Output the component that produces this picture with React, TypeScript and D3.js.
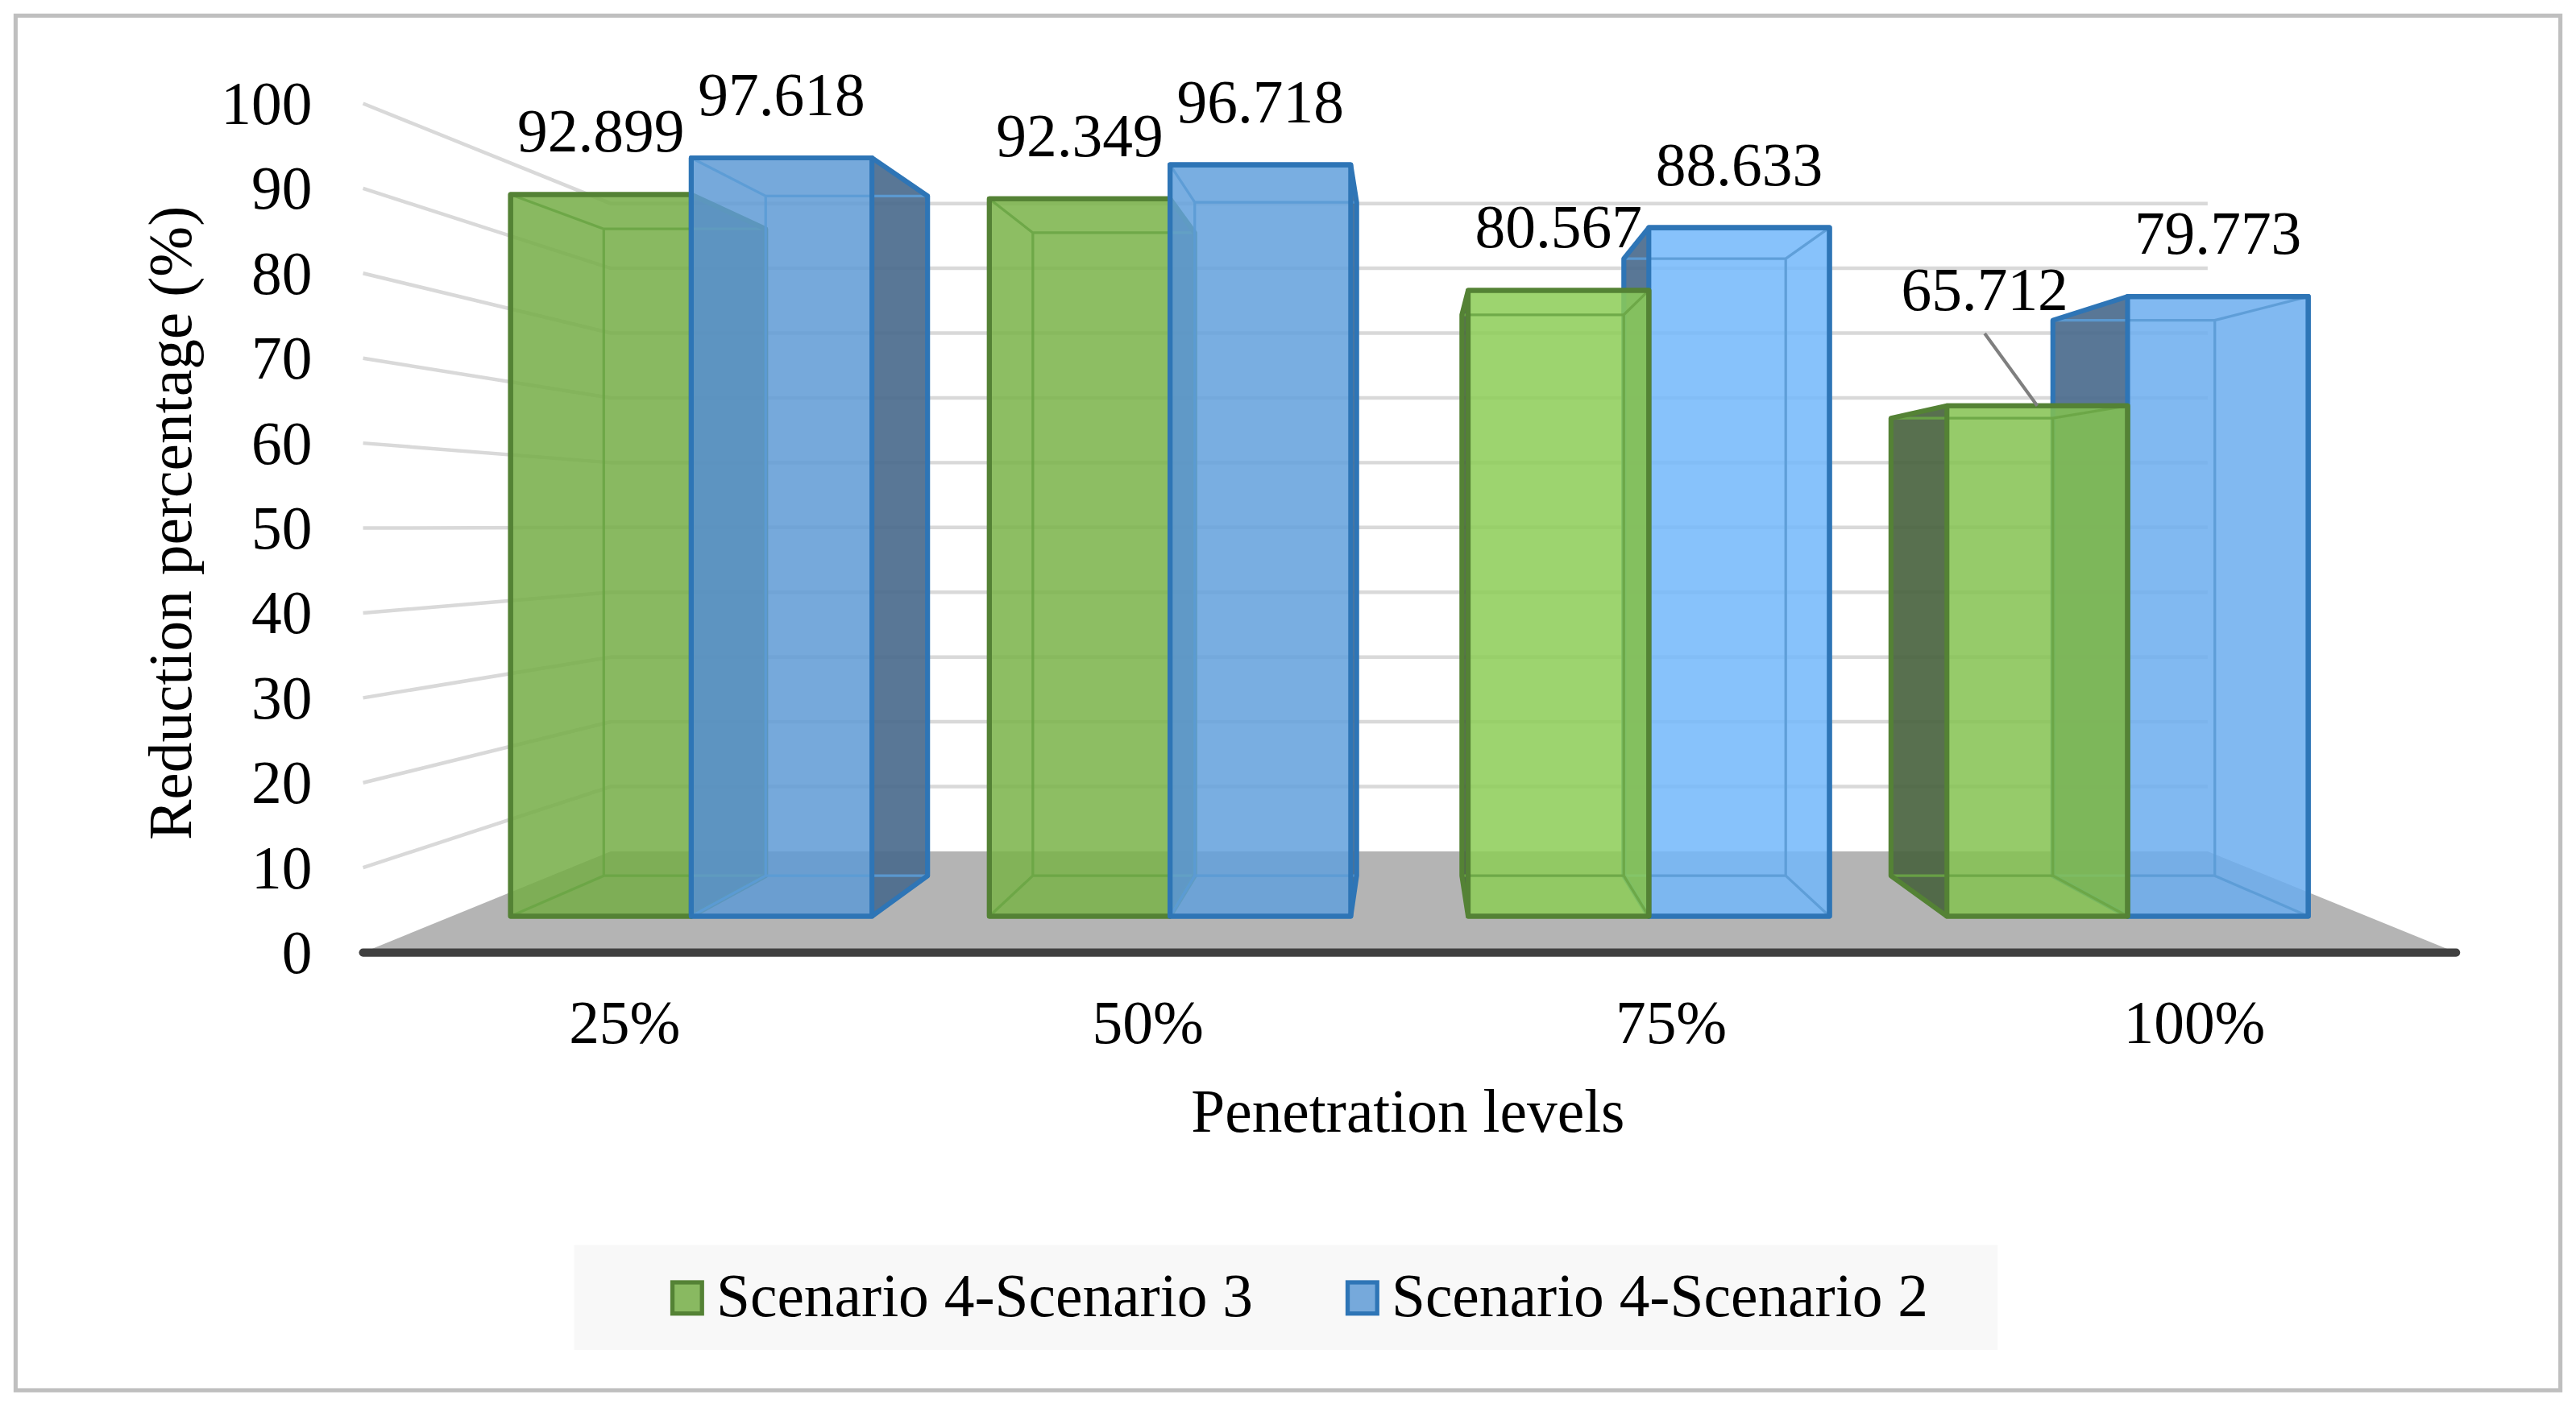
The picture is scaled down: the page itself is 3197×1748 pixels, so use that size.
import * as d3 from "d3";

const categories = ["25%", "50%", "75%", "100%"];
const seriesNames = ["Scenario 4-Scenario 3", "Scenario 4-Scenario 2"];
const scenario3 = [92.899, 92.349, 80.567, 65.712];
const scenario2 = [97.618, 96.718, 88.633, 79.773];
const yTicks = [0, 10, 20, 30, 40, 50, 60, 70, 80, 90, 100];

const W = 1568;
const H = 857.3;
const FONT = '"Liberation Serif", "Times New Roman", serif';

// perspective: vanishing point and depth scales (front plane = 1)
const VX = 857;
const VY = 320;
const S_FRONT = 0.915;
const S_BACK = 0.82;
const S_WALL = 0.763;

const seriesStyle = [
  { face: "#89b961", edge: "#548235", inner: "#6aa545", side: "#4a6440" },
  { face: "#76a9db", edge: "#2e75b6", inner: "#5b9bd5", side: "#4b6b8d" },
];
const lighting = [0, 0.08, 0.38, 0.26];
const FACE_ALPHA = 0.85;

const x0 = d3.scaleBand<string>().domain(categories).range([221, 1495]);
const x1 = d3
  .scaleBand<string>()
  .domain(seriesNames)
  .range([0, x0.bandwidth()])
  .paddingOuter(0.325);
const y = d3.scaleLinear().domain([0, 100]).range([580, 63]);

const proj = (X: number, Y: number, s: number): [number, number] => [
  VX + (X - VX) * s,
  VY + (Y - VY) * s,
];

const pts = (p: [number, number][]) => p.map((q) => q.join(",")).join(" ");

// colour that, painted with alpha over white, gives the target colour
const underAlpha = (c: d3.RGBColor, a: number) =>
  d3
    .rgb(
      Math.max(0, (c.r - (1 - a) * 255) / a),
      Math.max(0, (c.g - (1 - a) * 255) / a),
      Math.max(0, (c.b - (1 - a) * 255) / a)
    )
    .formatHex();

const labelNudge: Record<string, [number, number]> = {
  "100%|Scenario 4-Scenario 3": [-32, -32],
};

export default function App() {
  const values = [scenario3, scenario2];
  const bars = categories.flatMap((c, ci) =>
    seriesNames.map((s, si) => {
      const X0 = (x0(c) ?? 0) + (x1(s) ?? 0);
      const X1 = X0 + x1.bandwidth();
      return { c, s, ci, si, v: values[si][ci], X0, X1 };
    })
  );
  // far-from-centre bars first so nearer ones overlap them
  const order = [...bars].sort(
    (a, b) =>
      Math.abs((b.X0 + b.X1) / 2 - VX) - Math.abs((a.X0 + a.X1) / 2 - VX)
  );

  const floor: [number, number][] = [
    [221, y(0)],
    [1495, y(0)],
    proj(1495, y(0), S_WALL),
    proj(221, y(0), S_WALL),
  ];

  return (
    <svg
      width={3197}
      height={1748}
      viewBox={`0 0 ${W} ${H}`}
      style={{ position: "absolute", left: 0, top: 0, display: "block", background: "#fff" }}
      fontFamily={FONT}
    >
      <rect x={9.5} y={9.5} width={1549} height={837} fill="#fff" stroke="#bfbfbf" strokeWidth={2.5} />

      {/* walls: gridlines */}
      {yTicks
        .filter((t) => t > 0)
        .map((t) => {
          const a: [number, number] = [221, y(t)];
          const b = proj(221, y(t), S_WALL);
          const c = proj(1495, y(t), S_WALL);
          return (
            <polyline
              key={t}
              points={pts([a, b, c])}
              fill="none"
              stroke="#d9d9d9"
              strokeWidth={2.2}
            />
          );
        })}

      {/* floor */}
      <polygon points={pts(floor)} fill="#b4b4b4" />
      <line x1={221} x2={1495} y1={y(0)} y2={y(0)} stroke="#404040" strokeWidth={5} strokeLinecap="round" />

      {/* y tick labels */}
      {yTicks.map((t) => (
        <text key={t} x={190} y={y(t) + 12.5} textAnchor="end" fontSize={37} fill="#000">
          {t}
        </text>
      ))}

      {/* bars */}
      {order.map((b) => {
        const st = seriesStyle[b.si];
        const lit = d3.rgb(st.face).brighter(lighting[b.ci]);
        const fill = underAlpha(lit, FACE_ALPHA);
        const Yt = y(b.v);
        const Yb = y(0);
        const FLT = proj(b.X0, Yt, S_FRONT);
        const FRT = proj(b.X1, Yt, S_FRONT);
        const FRB = proj(b.X1, Yb, S_FRONT);
        const FLB = proj(b.X0, Yb, S_FRONT);
        const BLT = proj(b.X0, Yt, S_BACK);
        const BRT = proj(b.X1, Yt, S_BACK);
        const BRB = proj(b.X1, Yb, S_BACK);
        const BLB = proj(b.X0, Yb, S_BACK);
        const rightVisible = (b.X0 + b.X1) / 2 < VX;
        const side = rightVisible ? [FRT, BRT, BRB, FRB] : [FLT, BLT, BLB, FLB];
        const hull = d3.polygonHull([FLT, FRT, FRB, FLB, BLT, BRT, BRB, BLB]) ?? [];
        const innerPath = [
          `M${BLT}L${BRT}L${BRB}L${BLB}Z`,
          `M${FLT}L${BLT}`,
          `M${FRT}L${BRT}`,
          `M${FRB}L${BRB}`,
          `M${FLB}L${BLB}`,
        ].join("");
        return (
          <g key={`${b.c}|${b.s}`}>
            <polygon points={pts(side)} fill={st.side} fillOpacity={0.92} />
            <polygon points={pts([FLT, FRT, FRB, FLB])} fill={fill} fillOpacity={FACE_ALPHA} />
            <path d={innerPath} fill="none" stroke={st.inner} strokeWidth={1.6} strokeOpacity={0.9} />
            <polygon points={pts([FLT, FRT, FRB, FLB])} fill="none" stroke={st.edge} strokeWidth={3} strokeLinejoin="round" />
            <polygon points={pts(hull)} fill="none" stroke={st.edge} strokeWidth={3} strokeLinejoin="round" />
          </g>
        );
      })}

      {/* data labels */}
      {bars.map((b) => {
        const top = proj((b.X0 + b.X1) / 2, y(b.v), S_FRONT);
        const nudge = labelNudge[`${b.c}|${b.s}`];
        const lx = top[0] + (nudge ? nudge[0] : 0);
        const ly = top[1] - 26 + (nudge ? nudge[1] : 0);
        return (
          <g key={`lab-${b.c}|${b.s}`}>
            {nudge && (
              <line x1={lx} y1={ly + 14} x2={top[0]} y2={top[1]} stroke="#7f7f7f" strokeWidth={2} />
            )}
            <text x={lx} y={ly} textAnchor="middle" fontSize={37} fill="#000">
              {b.v.toFixed(3)}
            </text>
          </g>
        );
      })}

      {/* category labels */}
      {categories.map((c) => (
        <text
          key={c}
          x={(x0(c) ?? 0) + x0.bandwidth() / 2}
          y={635}
          textAnchor="middle"
          fontSize={37}
          fill="#000"
        >
          {c}
        </text>
      ))}

      <text x={857} y={689} textAnchor="middle" fontSize={37} fill="#000">
        Penetration levels
      </text>
      <text
        transform={`translate(116,318.5) rotate(-90)`}
        textAnchor="middle"
        fontSize={37}
        fill="#000"
      >
        Reduction percentage (%)
      </text>

      {/* legend */}
      <rect x={349.5} y={758} width={866.5} height={64} fill="#f8f8f8" />
      {seriesNames.map((s, i) => {
        const lx = i === 0 ? 409.3 : 820.3;
        return (
          <g key={s}>
            <rect
              x={lx}
              y={780.8}
              width={18}
              height={19}
              fill={seriesStyle[i].face}
              stroke={seriesStyle[i].edge}
              strokeWidth={2.6}
            />
            <text x={lx + 26.7} y={801.2} fontSize={37} fill="#000">
              {s}
            </text>
          </g>
        );
      })}
    </svg>
  );
}
